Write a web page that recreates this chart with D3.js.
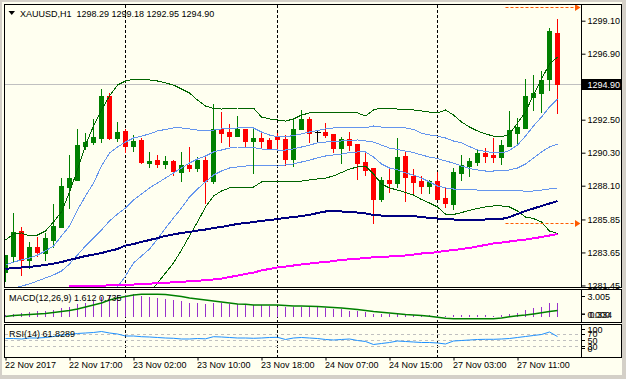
<!DOCTYPE html>
<html>
<head>
<meta charset="utf-8">
<script src="https://cdn.jsdelivr.net/npm/d3@7"></script>
<style>
  html, body { margin: 0; padding: 0; background: #d4d0c8; }
  svg { display: block; }
  text { font-family: "Liberation Sans", Arial, sans-serif; font-size: 9px; fill: #000; }
</style>
</head>
<body>
<script>
// ---- data ----
const symbolTitle = "XAUUSD,H1";
const lastOHLC = ["1298.29", "1299.18", "1292.95", "1294.90"];

const opens = [
  1282.35, 1283.43, 1285.08, 1283.15, 1284.01, 1283.63, 1284.48, 1285.37, 1288.03, 1288.48,
  1290.75, 1291.01, 1291.30, 1294.08, 1291.30, 1291.75, 1290.77, 1291.15, 1289.61, 1289.81,
  1289.55, 1289.75, 1289.03, 1289.48, 1289.30, 1289.81, 1288.43, 1291.88, 1291.68, 1291.43,
  1291.88, 1291.10, 1291.26, 1291.15, 1291.37, 1291.21, 1289.88, 1291.88, 1292.55, 1291.68,
  1291.68, 1291.55, 1290.63, 1291.19, 1290.88, 1289.68, 1289.26, 1287.21, 1288.48, 1288.30,
  1290.08, 1288.75, 1288.41, 1288.10, 1288.41, 1287.28, 1286.88, 1288.97, 1289.43, 1289.70,
  1290.26, 1290.17, 1290.03, 1290.75, 1291.63, 1291.97, 1294.03, 1294.26, 1295.21, 1298.29
];
const highs = [
  1283.48, 1286.26, 1285.37, 1284.33, 1284.66, 1284.93, 1286.88, 1288.59, 1290.15, 1291.86,
  1291.59, 1292.53, 1294.53, 1294.26, 1292.33, 1291.86, 1291.48, 1291.26, 1290.33, 1290.15,
  1290.10, 1289.81, 1290.33, 1290.70, 1290.03, 1290.08, 1293.55, 1293.03, 1292.19, 1292.75,
  1291.88, 1291.88, 1291.59, 1291.26, 1291.59, 1291.48, 1292.59, 1293.15, 1292.70, 1291.75,
  1292.26, 1291.55, 1291.33, 1291.68, 1290.88, 1290.33, 1289.26, 1288.70, 1289.26, 1291.26,
  1290.37, 1289.19, 1288.75, 1288.48, 1289.01, 1287.95, 1289.26, 1290.15, 1289.93, 1290.53,
  1290.63, 1291.30, 1291.15, 1293.08, 1292.59, 1295.21, 1295.48, 1295.75, 1298.63, 1299.18
];
const lows = [
  1281.75, 1283.03, 1282.15, 1282.59, 1283.43, 1283.15, 1284.03, 1285.37, 1286.63, 1288.48,
  1290.57, 1290.86, 1291.03, 1291.21, 1291.10, 1290.33, 1290.43, 1289.63, 1289.37, 1289.37,
  1289.26, 1288.81, 1288.43, 1289.08, 1289.08, 1286.93, 1288.26, 1291.03, 1290.77, 1291.43,
  1290.77, 1288.97, 1290.63, 1290.63, 1290.48, 1289.48, 1289.43, 1291.88, 1291.03, 1291.10,
  1291.37, 1290.37, 1289.59, 1290.48, 1288.55, 1288.81, 1285.63, 1287.10, 1287.70, 1288.03,
  1287.10, 1287.63, 1287.61, 1287.63, 1287.21, 1286.65, 1286.58, 1288.48, 1288.77, 1289.48,
  1289.70, 1289.70, 1289.53, 1290.75, 1290.97, 1291.97, 1293.15, 1292.99, 1294.48, 1292.95
];
const closes = [
  1283.48, 1284.99, 1283.15, 1284.01, 1283.70, 1284.63, 1285.41, 1288.08, 1288.59, 1290.81,
  1291.01, 1291.35, 1294.08, 1291.26, 1291.68, 1290.77, 1291.08, 1289.66, 1289.75, 1289.55,
  1289.75, 1289.08, 1289.48, 1289.30, 1289.81, 1288.43, 1291.88, 1291.63, 1291.43, 1291.88,
  1291.08, 1291.26, 1291.10, 1290.63, 1291.21, 1289.88, 1291.88, 1292.55, 1291.63, 1291.68,
  1291.50, 1290.63, 1291.19, 1290.83, 1289.63, 1289.15, 1287.21, 1288.48, 1288.26, 1289.99,
  1288.70, 1288.37, 1288.08, 1288.38, 1287.21, 1286.97, 1289.01, 1289.48, 1289.75, 1290.26,
  1290.10, 1290.03, 1290.81, 1291.81, 1292.03, 1294.08, 1294.30, 1295.15, 1298.41, 1294.90
];

// Bollinger (20,2) in dark green
const bbUpper2 = [
  1284.48, 1284.88, 1284.95, 1284.75, 1284.81, 1285.08, 1285.68, 1286.35, 1287.68, 1289.15,
  1290.81, 1292.08, 1293.15, 1294.08, 1294.81, 1295.08, 1295.21, 1295.21, 1295.15, 1295.08,
  1294.95, 1294.81, 1294.55, 1294.28, 1293.81, 1293.41, 1293.25, 1293.21, 1293.25, 1293.28,
  1293.28, 1293.28, 1292.68, 1292.55, 1292.48, 1292.41, 1292.55, 1292.81, 1292.95, 1293.01,
  1293.01, 1292.98, 1292.95, 1292.95, 1292.95, 1292.75, 1293.15, 1293.28, 1293.28, 1293.21,
  1293.15, 1293.15, 1293.08, 1293.01, 1292.95, 1293.15, 1292.81, 1292.35, 1292.01, 1291.75,
  1291.55, 1291.41, 1291.35, 1291.55, 1292.28, 1293.01, 1294.15, 1295.21, 1296.21, 1296.68
];
const bbLower2 = [
  null, null, null, null, null, null, null, null, null, null,
  null, null, null, null, null, null, null, null, 1280.95, 1281.61,
  1282.28, 1282.95, 1283.81, 1284.75, 1285.68, 1286.68, 1287.41, 1287.75, 1287.95, 1287.98,
  1288.01, 1288.01, 1288.35, 1288.41, 1288.41, 1288.38, 1288.35, 1288.41, 1288.48, 1288.55,
  1288.61, 1288.75, 1288.98, 1289.21, 1289.35, 1289.41, 1288.88, 1288.21, 1287.95, 1287.81,
  1287.65, 1287.48, 1287.18, 1286.95, 1286.68, 1286.21, 1286.18, 1286.31, 1286.45, 1286.58,
  1286.68, 1286.75, 1286.75, 1286.68, 1286.41, 1286.01, 1285.91, 1285.68, 1285.08, 1284.91
];
// Bollinger (20,1) and its middle line in light blue
const bbUpper1 = [
  1282.81, 1283.01, 1283.15, 1283.28, 1283.48, 1283.75, 1284.08, 1284.75, 1285.41, 1286.48,
  1287.41, 1288.28, 1289.41, 1290.28, 1290.68, 1291.01, 1291.28, 1291.41, 1291.55, 1291.75,
  1291.85, 1291.95, 1291.95, 1291.88, 1291.81, 1291.81, 1291.81, 1291.88, 1291.91, 1291.95,
  1291.95, 1291.95, 1291.68, 1291.48, 1291.35, 1291.35, 1291.45, 1291.55, 1291.68, 1291.78,
  1291.88, 1291.95, 1291.95, 1291.95, 1291.95, 1291.95, 1292.08, 1292.01, 1291.95, 1291.95,
  1291.95, 1291.85, 1291.61, 1291.48, 1291.41, 1291.28, 1291.08, 1290.95, 1290.71, 1290.48,
  1290.38, 1290.31, 1290.28, 1290.45, 1290.81, 1291.41, 1292.08, 1292.68, 1293.35, 1293.88
];
const bbMiddle = [
  1281.15, 1281.28, 1281.41, 1281.55, 1281.75, 1281.95, 1282.15, 1282.41, 1282.88, 1283.48,
  1284.08, 1284.61, 1285.15, 1285.75, 1286.21, 1286.61, 1287.15, 1287.55, 1287.95, 1288.28,
  1288.61, 1288.95, 1289.28, 1289.61, 1289.88, 1290.08, 1290.35, 1290.48, 1290.61, 1290.68,
  1290.68, 1290.65, 1290.55, 1290.51, 1290.48, 1290.48, 1290.55, 1290.68, 1290.81, 1290.95,
  1291.01, 1291.05, 1291.08, 1291.11, 1291.15, 1291.08, 1291.01, 1290.81, 1290.61, 1290.51,
  1290.41, 1290.31, 1290.15, 1290.01, 1289.91, 1289.75, 1289.61, 1289.41, 1289.25, 1289.15,
  1289.08, 1289.08, 1289.11, 1289.15, 1289.28, 1289.55, 1289.95, 1290.35, 1290.68, 1290.88
];
const bbLower1 = [
  null, null, null, null, null, null, null, null, null, null,
  null, null, null, 1280.61, 1281.35, 1282.08, 1282.95, 1283.41, 1283.88, 1284.55,
  1285.28, 1285.95, 1286.61, 1287.35, 1287.88, 1288.35, 1288.81, 1289.08, 1289.28, 1289.35,
  1289.41, 1289.48, 1289.48, 1289.45, 1289.41, 1289.48, 1289.55, 1289.68, 1289.81, 1289.95,
  1290.08, 1290.15, 1290.21, 1290.31, 1290.35, 1290.35, 1290.01, 1289.55, 1289.28, 1289.15,
  1288.95, 1288.81, 1288.61, 1288.35, 1288.08, 1287.95, 1287.88, 1287.88, 1287.85, 1287.81,
  1287.81, 1287.81, 1287.81, 1287.81, 1287.81, 1287.71, 1287.75, 1287.81, 1287.88, 1287.95
];
const ma100 = [
  1282.55, 1282.61, 1282.65, 1282.68, 1282.75, 1282.81, 1282.91, 1283.01, 1283.15, 1283.28,
  1283.41, 1283.51, 1283.61, 1283.75, 1283.88, 1284.11, 1284.21, 1284.35, 1284.48, 1284.61,
  1284.75, 1284.85, 1284.95, 1285.01, 1285.11, 1285.18, 1285.28, 1285.35, 1285.45, 1285.55,
  1285.61, 1285.68, 1285.75, 1285.81, 1285.88, 1285.95, 1286.01, 1286.08, 1286.15, 1286.28,
  1286.38, 1286.41, 1286.38, 1286.35, 1286.31, 1286.25, 1286.15, 1286.11, 1286.08, 1286.08,
  1286.08, 1286.08, 1286.01, 1285.95, 1285.91, 1285.88, 1285.85, 1285.81, 1285.81, 1285.81,
  1285.85, 1285.85, 1285.88, 1286.01, 1286.21, 1286.41, 1286.58, 1286.75, 1286.91, 1287.08
];
const ma200 = [
  null, null, null, null, null, null, null, null, 1281.38, 1281.41,
  1281.41, 1281.43, 1281.44, 1281.45, 1281.46, 1281.48, 1281.51, 1281.55, 1281.57, 1281.60,
  1281.63, 1281.66, 1281.69, 1281.73, 1281.76, 1281.81, 1281.85, 1281.91, 1282.01, 1282.11,
  1282.21, 1282.31, 1282.45, 1282.55, 1282.65, 1282.71, 1282.78, 1282.85, 1282.91, 1282.97,
  1283.01, 1283.08, 1283.15, 1283.19, 1283.23, 1283.28, 1283.33, 1283.36, 1283.38, 1283.41,
  1283.45, 1283.51, 1283.58, 1283.61, 1283.68, 1283.75, 1283.81, 1283.88, 1283.95, 1284.05,
  1284.15, 1284.25, 1284.31, 1284.38, 1284.45, 1284.51, 1284.59, 1284.68, 1284.78, 1284.88
];

const macdHist = [
  0.25, 0.34, 0.48, 0.56, 0.63, 0.67, 0.75, 0.97, 1.15, 1.42,
  1.60, 1.79, 2.20, 2.38, 2.46, 2.49, 2.53, 2.38, 2.27, 2.09,
  1.98, 1.90, 1.75, 1.60, 1.53, 1.45, 1.60, 1.53, 1.45, 1.45,
  1.42, 1.37, 1.34, 1.26, 1.15, 1.08, 1.08, 1.15, 1.08, 1.08,
  0.97, 0.89, 0.86, 0.70, 0.63, 0.52, 0.35, 0.30, 0.30, 0.32,
  0.28, 0.22, 0.20, 0.18, 0.15, 0.12, 0.20, 0.22, 0.22, 0.24,
  0.20, 0.15, 0.22, 0.37, 0.48, 0.78, 0.97, 1.15, 1.53, 1.612
];
const macdSignal = [
  0.06, 0.17, 0.22, 0.28, 0.34, 0.39, 0.50, 0.61, 0.73, 0.89,
  1.12, 1.34, 1.56, 1.90, 2.12, 2.29, 2.46, 2.54, 2.54, 2.54,
  2.51, 2.40, 2.29, 2.12, 2.01, 1.90, 1.79, 1.68, 1.56, 1.45,
  1.42, 1.34, 1.34, 1.34, 1.34, 1.28, 1.23, 1.23, 1.20, 1.17,
  1.12, 1.06, 1.01, 0.93, 0.84, 0.73, 0.61, 0.53, 0.45, 0.36,
  0.28, 0.22, 0.17, 0.08, -0.02, -0.13, -0.19, -0.19, -0.19, -0.19,
  -0.19, -0.19, -0.11, 0.02, 0.13, 0.22, 0.34, 0.47, 0.61, 0.735
];
const rsi = [
  55.5, 55.5, 53.9, 57.1, 57.1, 58.8, 62.0, 66.9, 68.5, 71.8,
  73.4, 75.0, 78.2, 73.4, 70.1, 63.6, 63.6, 61.4, 60.4, 58.8,
  57.1, 56.2, 53.9, 53.9, 55.5, 54.5, 61.4, 60.4, 58.8, 57.1,
  57.1, 56.2, 57.1, 58.8, 59.4, 52.3, 57.1, 58.8, 57.1, 55.5,
  52.3, 50.6, 52.3, 53.9, 49.0, 45.8, 36.0, 39.3, 42.5, 47.4,
  45.8, 44.2, 42.5, 42.5, 40.9, 37.7, 47.4, 49.0, 50.6, 52.3,
  52.9, 52.9, 53.9, 55.5, 58.8, 62.0, 65.3, 68.5, 76.6, 61.8289
];

const priceTicks = [1299.10, 1296.90, 1292.50, 1290.30, 1288.10, 1285.85, 1283.65, 1281.45];
const bidPrice = 1294.90;
const timeTickBars = [0, 8, 16, 24, 32, 40, 48, 56, 64];
const timeLabels = ["22 Nov 2017", "22 Nov 17:00", "23 Nov 02:00", "23 Nov 10:00", "23 Nov 18:00",
  "24 Nov 07:00", "24 Nov 15:00", "27 Nov 03:00", "27 Nov 11:00"];
const daySeparatorBars = [15, 34, 54];
const markerLevels = [1300.03, 1285.61];
const markerFromBar = 62.5;
const macdRange = [-0.334, 3.005];
const macdLabels = ["3.005", "0.000", "0.334"];
const rsiLevels = [70, 50, 30];
const rsiLabels = [100, 70, 50, 30, 0];

// ---- layout ----
const W = 626, H = 379;
const plotL = 5, plotR = 581, frameR = 621.5;
const paneMain = { top: 5, bottom: 287 };
const paneMacd = { top: 290, bottom: 322 };
const paneRsi = { top: 325, bottom: 357 };
const n = closes.length;

const svg = d3.select("body").append("svg").attr("width", W).attr("height", H);
svg.append("rect").attr("width", W).attr("height", H).attr("fill", "#d4d0c8");
svg.append("rect").attr("x", 2).attr("y", 2).attr("width", 620).attr("height", 373).attr("fill", "#fffff0");

const defs = svg.append("defs");
[["clipMain", paneMain], ["clipMacd", paneMacd], ["clipRsi", paneRsi]].forEach(([id, p]) => {
  defs.append("clipPath").attr("id", id).append("rect")
    .attr("x", plotL).attr("y", p.top).attr("width", plotR - plotL).attr("height", p.bottom - p.top);
});

// scales
const x = d3.scaleLinear().domain([0, n - 1]).range([5.5, 5.5 + 8 * (n - 1)]);
const y = d3.scaleLinear().domain([1281.45, 1299.10]).range([285.45, 20.7]);
const yMacd = d3.scaleLinear().domain(macdRange).range([320, 290]);
const yRsi = d3.scaleLinear().domain([0, 100]).range([355.6, 324.8]);

// day separators
[paneMain, paneMacd, paneRsi].forEach(p => {
  svg.append("g").selectAll("line").data(daySeparatorBars).enter().append("line")
    .attr("x1", d => x(d)).attr("x2", d => x(d))
    .attr("y1", p.top).attr("y2", p.bottom)
    .attr("stroke", "#000").attr("stroke-dasharray", "3,2");
});

// ---- main pane ----
const gMain = svg.append("g").attr("clip-path", "url(#clipMain)");

// bid line
gMain.append("line")
  .attr("x1", plotL).attr("x2", plotR)
  .attr("y1", Math.round(y(bidPrice)) + 0.5).attr("y2", Math.round(y(bidPrice)) + 0.5)
  .attr("stroke", "#c0c0c0");

// candles
const candles = gMain.append("g").attr("shape-rendering", "crispEdges");
d3.range(n).forEach(i => {
  const o = opens[i], c = closes[i];
  const col = c > o ? "#008000" : (c < o ? "#ff0000" : "#000000");
  candles.append("line")
    .attr("x1", x(i)).attr("x2", x(i))
    .attr("y1", Math.round(y(highs[i]))).attr("y2", Math.round(y(lows[i])) + 1)
    .attr("stroke", col);
  if (c === o) {
    candles.append("line")
      .attr("x1", x(i) - 3).attr("x2", x(i) + 3)
      .attr("y1", Math.round(y(o)) + 0.5).attr("y2", Math.round(y(o)) + 0.5)
      .attr("stroke", col);
  } else {
    const top = Math.round(y(Math.max(o, c)));
    const bot = Math.round(y(Math.min(o, c)));
    candles.append("rect")
      .attr("x", x(i) - 2.5).attr("width", 5)
      .attr("y", top).attr("height", Math.max(1, bot - top + 1))
      .attr("fill", col);
  }
});

// indicator lines (aliased like the terminal draws them)
const priceLine = d3.line().defined(d => d != null).x((d, i) => x(i)).y(d => y(d));
const mainSeries = [
  [bbUpper1, "#6495ed", 1], [bbMiddle, "#6495ed", 1], [bbLower1, "#6495ed", 1],
  [bbUpper2, "#006400", 1], [bbLower2, "#006400", 1],
  [ma200, "#ff00ff", 2], [ma100, "#000080", 2]
];
mainSeries.forEach(([data, color, w]) => {
  gMain.append("path").datum(data)
    .attr("d", priceLine).attr("fill", "none")
    .attr("stroke", color).attr("stroke-width", w)
    .attr("shape-rendering", "crispEdges");
});

// orange level markers with arrows
markerLevels.forEach(p => {
  const yy = Math.round(y(p)) + 0.5;
  svg.append("line")
    .attr("x1", x(markerFromBar)).attr("x2", 575)
    .attr("y1", yy).attr("y2", yy)
    .attr("stroke", "#ff5a00").attr("stroke-dasharray", "3,2");
  svg.append("path")
    .attr("d", `M575,${yy - 3.5}L580.5,${yy}L575,${yy + 3.5}Z`)
    .attr("fill", "#ff5a00");
});

// title
svg.append("path").attr("d", "M8.5,11L15,11L11.75,15Z").attr("fill", "#000");
svg.append("text").attr("x", 20).attr("y", 16.5)
  .attr("xml:space", "preserve")
  .text(symbolTitle + "  " + lastOHLC.join(" "));

// ---- MACD pane ----
const gMacd = svg.append("g").attr("clip-path", "url(#clipMacd)");
gMacd.append("g").attr("shape-rendering", "crispEdges")
  .selectAll("line").data(macdHist).enter().append("line")
  .attr("x1", (d, i) => x(i)).attr("x2", (d, i) => x(i))
  .attr("y1", Math.round(yMacd(0))).attr("y2", d => Math.round(yMacd(d)))
  .attr("stroke", "#9932cc").attr("stroke-width", 1.5);
gMacd.append("path").datum(macdSignal)
  .attr("d", d3.line().x((d, i) => x(i)).y(d => yMacd(d)))
  .attr("fill", "none").attr("stroke", "#008000").attr("stroke-width", 1.5);
svg.append("text").attr("x", 9).attr("y", 300.5)
  .text(`MACD(12,26,9) ${macdHist[n - 1].toFixed(3)} ${macdSignal[n - 1].toFixed(3)}`);

// ---- RSI pane ----
const gRsi = svg.append("g").attr("clip-path", "url(#clipRsi)");
gRsi.append("g").selectAll("line").data(rsiLevels).enter().append("line")
  .attr("x1", plotL).attr("x2", plotR)
  .attr("y1", d => Math.round(yRsi(d)) + 0.5).attr("y2", d => Math.round(yRsi(d)) + 0.5)
  .attr("stroke", "#c0c0c0").attr("stroke-dasharray", "3,3");
gRsi.append("path").datum(rsi)
  .attr("d", d3.line().x((d, i) => x(i)).y(d => yRsi(d)))
  .attr("fill", "none").attr("stroke", "#1e90ff").attr("stroke-width", 1);
svg.append("text").attr("x", 9).attr("y", 336.5)
  .text(`RSI(14) ${d3.format(".4f")(rsi[n - 1])}`);

// ---- frames ----
const frames = svg.append("g").attr("fill", "none").attr("stroke", "#000").attr("shape-rendering", "crispEdges");
[paneMain, paneMacd, paneRsi].forEach(p => {
  frames.append("rect").attr("x", 4.5).attr("y", p.top - 0.5)
    .attr("width", frameR - 4.5).attr("height", p.bottom - p.top + 1);
  frames.append("line").attr("x1", plotR + 0.5).attr("x2", plotR + 0.5)
    .attr("y1", p.top - 0.5).attr("y2", p.bottom + 0.5);
});

// ---- price axis ----
const priceAxis = d3.axisRight(y).tickValues(priceTicks).tickFormat(d3.format(".2f"))
  .tickSize(4).tickPadding(2);
const gPA = svg.append("g").attr("transform", `translate(${plotR + 0.5},0)`).call(priceAxis);
gPA.select(".domain").remove();
gPA.selectAll("text").attr("font-size", null).attr("font-family", null);
gPA.selectAll("line").attr("stroke", "#000");

// bid label box
const by = Math.round(y(bidPrice));
svg.append("rect").attr("x", plotR + 1).attr("y", by - 5).attr("width", frameR - plotR - 1.5).attr("height", 11)
  .attr("fill", "#000");
svg.append("text").attr("x", plotR + 6.5).attr("y", by + 3.8).style("fill", "#fff")
  .text(bidPrice.toFixed(2));

// MACD scale labels (they overlap in the terminal too)
const macdLabelY = [yMacd(macdRange[1]) + 10, yMacd(macdRange[0]) - 2.3, yMacd(macdRange[0]) - 2.3];
macdLabels.forEach((t, i) => {
  svg.append("text").attr("x", plotR + 6.5 + (i === 2 ? 2 : 0)).attr("y", macdLabelY[i]).text(t);
  svg.append("line").attr("x1", plotR + 1).attr("x2", plotR + 4)
    .attr("y1", macdLabelY[i] - 3.5).attr("y2", macdLabelY[i] - 3.5).attr("stroke", "#000");
});

// RSI scale labels
rsiLabels.forEach(v => {
  const ly = Math.max(paneRsi.top + 7.5, Math.min(paneRsi.bottom - 5.5, yRsi(v) + 3.3));
  svg.append("text").attr("x", plotR + 6.5).attr("y", ly).text(v);
  svg.append("line").attr("x1", plotR + 1).attr("x2", plotR + 4)
    .attr("y1", Math.round(ly - 3.3) + 0.5).attr("y2", Math.round(ly - 3.3) + 0.5).attr("stroke", "#000");
});

// ---- time axis ----
const timeAxis = d3.axisBottom(x).tickValues(timeTickBars)
  .tickFormat((d, i) => timeLabels[i]).tickSize(3).tickPadding(1.5);
const gTA = svg.append("g").attr("transform", `translate(0,${paneRsi.bottom + 0.5})`).call(timeAxis);
gTA.select(".domain").remove();
gTA.selectAll("text").attr("font-size", null).attr("font-family", null)
  .attr("text-anchor", "start").attr("x", -1);
gTA.selectAll("line").attr("stroke", "#000");
</script>
</body>
</html>
